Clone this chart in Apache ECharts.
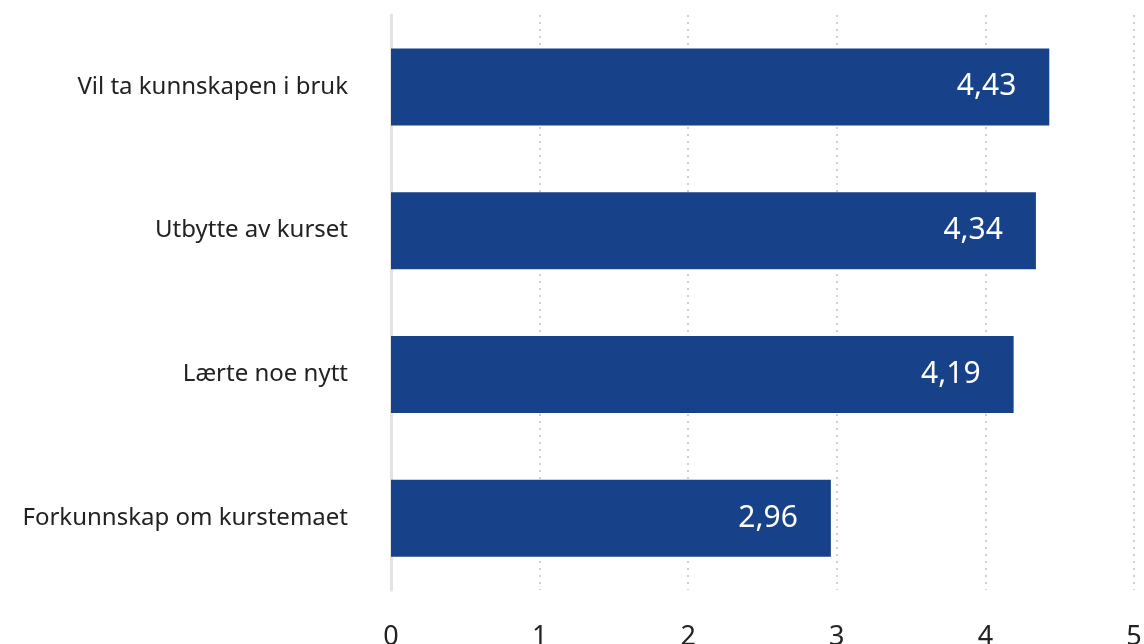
<!DOCTYPE html>
<html>
<head>
<meta charset="utf-8">
<script src="https://cdn.jsdelivr.net/npm/echarts@6/dist/echarts.min.js"></script>
<style>
  html, body { margin: 0; padding: 0; background: #fff; }
  #chart { width: 1144px; height: 644px; }
</style>
</head>
<body>
<div id="chart"></div>
<script>
const categories = ['Forkunnskap om kurstemaet', 'Lærte noe nytt', 'Utbytte av kurset', 'Vil ta kunnskapen i bruk']
const values = [2.96, 4.19, 4.34, 4.43]
const xTicks = [0, 1, 2, 3, 4, 5]

const chart = echarts.init(document.getElementById('chart'))

const option = {
  animation: false,
  textStyle: { fontFamily: '"Noto Sans", "Open Sans", sans-serif' },
  grid: { left: 391, right: 10, top: 15, bottom: 54, containLabel: false, outerBoundsMode: 'none' },
  xAxis: {
    type: 'value',
    min: xTicks[0],
    max: xTicks[xTicks.length - 1],
    interval: 1,
    axisLine: { show: false },
    axisTick: { show: false },
    axisLabel: { color: '#222', fontSize: 27, margin: 34 },
    splitLine: { show: true, lineStyle: { color: '#d0d0d0', type: [2, 5], width: 2 } }
  },
  yAxis: {
    type: 'category',
    data: categories,
    axisLine: { show: true, lineStyle: { color: '#e3e3e3', width: 3 } },
    axisTick: { show: false },
    axisLabel: { color: '#222', fontSize: 24, margin: 43 }
  },
  series: [{
    type: 'bar',
    data: values,
    barWidth: 77,
    itemStyle: { color: '#174289' },
    label: {
      show: true,
      position: 'insideRight',
      distance: 33,
      color: '#fff',
      fontSize: 30,
      formatter: p => p.value.toFixed(2).replace('.', ',')
    }
  }]
}

chart.setOption(option)
</script>
</body>
</html>
